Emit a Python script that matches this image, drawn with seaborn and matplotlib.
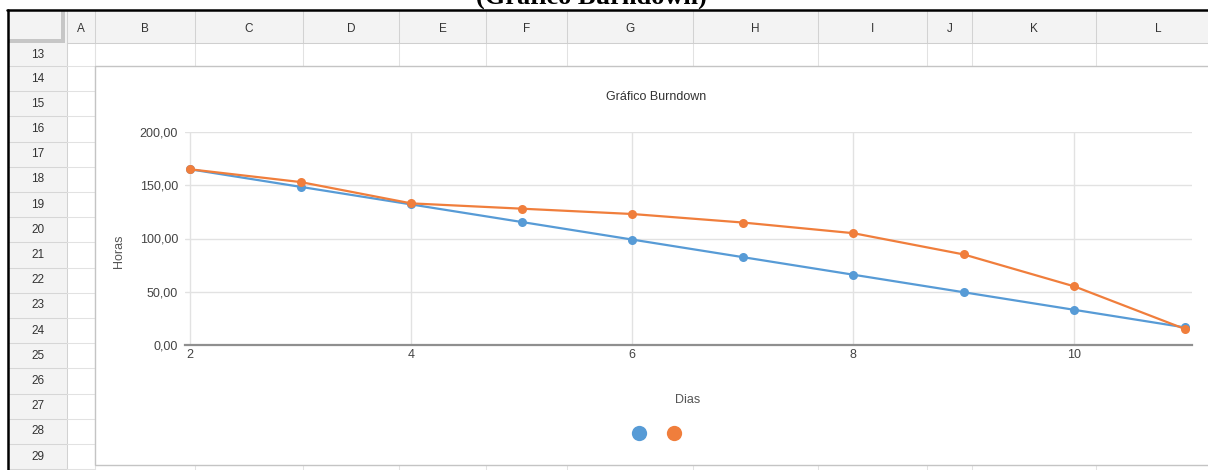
import numpy as np
import pandas as pd
import matplotlib.pyplot as plt
import seaborn as sns
from matplotlib.patches import Rectangle
from matplotlib.lines import Line2D

# chart data
dias = [2, 3, 4, 5, 6, 7, 8, 9, 10, 11]
horas_estimadas = [165, 148.5, 132, 115.5, 99, 82.5, 66, 49.5, 33, 16.5]
horas_reais = [165, 153, 133, 128, 123, 115, 105, 85, 55, 15]
series_names = ["Estimado", "Real"]
x_ticks = [2, 4, 6, 8, 10]
x_tick_labels = ["2", "4", "6", "8", "10"]
y_ticks = [0, 50, 100, 150, 200]
y_tick_labels = ["0,00", "50,00", "100,00", "150,00", "200,00"]

# spreadsheet around the chart
col_letters = ["A", "B", "C", "D", "E", "F", "G", "H", "I", "J", "K", "L"]
row_numbers = list(range(13, 30))

BLUE = "#579bd6"
ORANGE = "#f07e3c"

W, H = 1208, 470


def fx(x):
    return x / W


def fy(y):
    return 1 - y / H


sns.set_theme(style="white")
plt.rcParams['font.family'] = ['Liberation Sans', 'DejaVu Sans']

fig = plt.figure(figsize=(W / 100, H / 100), dpi=100)
fig.patch.set_facecolor("white")


def rect(x0, y0, x1, y1, **kw):
    kw.setdefault("zorder", -5)
    kw.setdefault("linewidth", 0)
    fig.add_artist(Rectangle((fx(x0), fy(y1)), fx(x1) - fx(x0), fy(y0) - fy(y1),
                             transform=fig.transFigure, **kw))


def hline(y, x0, x1, color, lw=0.75, z=-4):
    fig.add_artist(Line2D([fx(x0), fx(x1)], [fy(y), fy(y)], color=color, lw=lw,
                          transform=fig.transFigure, zorder=z))


def vline(x, y0, y1, color, lw=0.75, z=-4):
    fig.add_artist(Line2D([fx(x), fx(x)], [fy(y0), fy(y1)], color=color, lw=lw,
                          transform=fig.transFigure, zorder=z))


# column edges / row edges in pixels
col_edges = [67, 95, 195, 303, 399, 486, 567, 693, 818, 927, 972, 1096, 1220]
row_edges = [43, 66] + [66 + 25.2 * (i + 1) for i in range(16)]

# header row and row-number column
rect(8, 10, W, 43, facecolor="#f3f3f3")
rect(8, 43, 67, H, facecolor="#f3f3f3")
rect(8, 39, 64, 43, facecolor="#c6c6c6", zorder=-4)
rect(61, 10, 65, 43, facecolor="#c6c6c6", zorder=-4)

for x in col_edges:
    vline(x, 10, 43, "#d2d2d2")
    vline(x, 43, 66, "#e2e2e2")
    vline(x, 465, H, "#e2e2e2")
vline(67, 43, H, "#d2d2d2")
vline(95, 43, H, "#e2e2e2")
hline(43, 67, W, "#cfcfcf")

for y in row_edges[1:]:
    hline(y, 8, 67, "#d6d6d6")
    hline(y, 67, 95, "#e2e2e2")

for i, letter in enumerate(col_letters):
    cx = (col_edges[i] + col_edges[i + 1]) / 2
    fig.text(fx(cx), fy(29), letter, ha="center", va="center", fontsize=8.5, color="#333333")

for i, n in enumerate(row_numbers):
    cy = (row_edges[i] + row_edges[i + 1]) / 2
    fig.text(fx(38), fy(cy), str(n), ha="center", va="center", fontsize=8.5, color="#333333")

# chart box
rect(95, 66, 1230, 465, facecolor="white", edgecolor="#c4c4c4", linewidth=1.0, zorder=-3)

# outer black frame lines
hline(10, 7, W, "black", lw=1.8, z=-2)
vline(8, 10, H, "black", lw=1.8, z=-2)

# cut off caption above the sheet
fig.text(fx(591), fy(4), "(Gráfico Burndown)", ha="center", va="baseline",
         fontsize=19, fontweight="bold", family=["Liberation Serif", "DejaVu Serif"],
         color="black")

# plot area
ax_x0, ax_x1, ax_y0, ax_y1 = 185, 1192, 132, 345
ax = fig.add_axes([fx(ax_x0), fy(ax_y1), fx(ax_x1) - fx(ax_x0), fy(ax_y0) - fy(ax_y1)])
ax.patch.set_alpha(0)

df = pd.DataFrame({
    "Dias": dias + dias,
    "Horas": horas_estimadas + horas_reais,
    "Serie": [series_names[0]] * len(dias) + [series_names[1]] * len(dias),
})

sns.lineplot(data=df, x="Dias", y="Horas", hue="Serie", palette=[BLUE, ORANGE],
             marker="o", markersize=6.5, markeredgewidth=0, linewidth=1.6,
             legend=False, ax=ax, clip_on=False)

k = (1185 - 190) / 9
ax.set_xlim(2 - 5 / k, 11 + 7 / k)
ax.set_ylim(0, 200)
ax.set_xticks(x_ticks)
ax.set_xticklabels(x_tick_labels)
ax.set_yticks(y_ticks)
ax.set_yticklabels(y_tick_labels)
ax.grid(True, color="#e2e2e2", linewidth=1.0)
ax.set_axisbelow(True)
for s in ["left", "top", "right"]:
    ax.spines[s].set_visible(False)
ax.spines["bottom"].set_color("#8f8f8f")
ax.spines["bottom"].set_linewidth(1.6)
ax.tick_params(axis="both", length=0, labelsize=9, labelcolor="#444444")
ax.tick_params(axis="y", pad=5)
ax.tick_params(axis="x", pad=3)
ax.set_xlabel("")
ax.set_ylabel("")

fig.text(fx(656), fy(97), "Gráfico Burndown", ha="center", va="center", fontsize=9, color="#333333")
fig.text(fx(688), fy(400), "Dias", ha="center", va="center", fontsize=9, color="#555555")
fig.text(fx(119), fy(251), "Horas", ha="center", va="center", fontsize=9, color="#555555",
         rotation=90)

# legend: markers only, no text
handles = [Line2D([], [], marker="o", linestyle="", markersize=11, markeredgewidth=0, color=c)
           for c in [BLUE, ORANGE]]
fig.legend(handles, ["", ""], loc="center", bbox_to_anchor=(fx(656), fy(434)), ncol=2,
           frameon=False, fontsize=9, handlelength=1.0, handletextpad=0.0,
           columnspacing=1.8, borderpad=0, borderaxespad=0)

fig.savefig("out.png", dpi=100)
